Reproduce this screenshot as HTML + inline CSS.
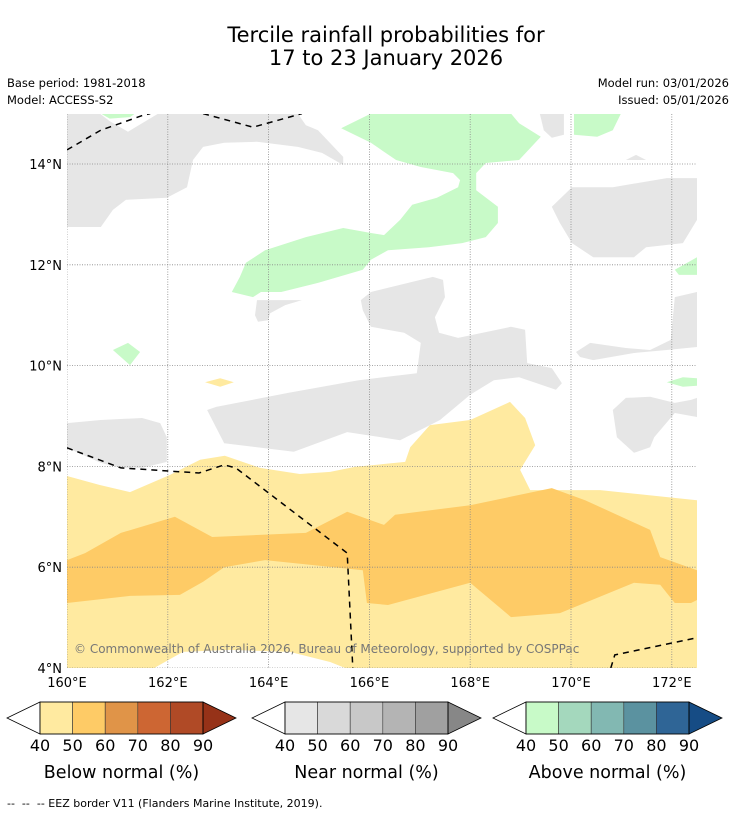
<!DOCTYPE html>
<html><head><meta charset="utf-8"><style>
body{margin:0;background:#fff;width:736px;height:816px;overflow:hidden;font-family:"DejaVu Sans","Liberation Sans",sans-serif}
</style></head><body>
<svg id="chart" width="736" height="816" xmlns="http://www.w3.org/2000/svg" font-family="DejaVu Sans, Liberation Sans, sans-serif">
<rect width="736" height="816" fill="#fff"/>
<text x="386" y="42" font-size="21" text-anchor="middle" fill="#000">Tercile rainfall probabilities for</text>
<text x="386" y="65" font-size="21" text-anchor="middle" fill="#000">17 to 23 January 2026</text>
<text x="7" y="87" font-size="11.5">Base period: 1981-2018</text>
<text x="7" y="104" font-size="11.5">Model: ACCESS-S2</text>
<text x="729" y="87" font-size="11.5" text-anchor="end">Model run: 03/01/2026</text>
<text x="729" y="104" font-size="11.5" text-anchor="end">Issued: 05/01/2026</text>
<g id="map"></g>
<g id="axes"></g>
<g id="cbars"></g>
<text x="7" y="807" font-size="11" style="white-space:pre">--  --  -- EEZ border V11 (Flanders Marine Institute, 2019).</text>
</svg>
<script>
const lonTicks=[160,162,164,166,168,170,172];
const latTicks=[4,6,8,10,12,14];
const cbLevels=[40,50,60,70,80,90];
const belowColors=["#ffeaa0","#fecb66","#e09448","#cd6633","#b04a26","#963218"];
const nearColors=["#e6e6e6","#d9d9d9","#c8c8c8","#b4b4b4","#a0a0a0","#878787"];
const aboveColors=["#c8fac8","#a4d8bd","#82b8b2","#5b92a0","#2f6596","#164c85"];
const yellowRegion=[[160,7.81],[160.65,7.63],[161.25,7.49],[162.04,7.83],[162.64,8.13],[163.13,8.21],[163.83,7.97],[164.62,7.85],[165.22,7.89],[165.71,7.99],[166.71,8.09],[166.81,8.38],[167.2,8.82],[168,8.92],[168.79,9.28],[169.09,8.96],[169.29,8.42],[168.99,7.93],[169.19,7.53],[170.58,7.53],[172.5,7.33],[172.5,4],[165.52,4],[165.22,4.12],[164.42,4.32],[163.23,4.36],[162.3,4.32],[161.73,4],[160,4]];
const orangeRegion=[[160,6.14],[160.36,6.28],[161.07,6.68],[162.14,7],[162.88,6.6],[164.74,6.68],[165.56,7.1],[166.29,6.84],[166.51,7.04],[168,7.23],[169.62,7.57],[170.28,7.33],[171.57,6.74],[171.77,6.2],[172.5,5.94],[172.5,5.35],[172.38,5.29],[172.06,5.29],[171.77,5.65],[171.25,5.69],[169.78,5.09],[168.81,5.01],[168,5.69],[166.37,5.25],[165.95,5.29],[165.87,5.94],[163.93,6.14],[163.12,6],[162.7,5.71],[162.24,5.45],[161.25,5.43],[160,5.29]];
const grayRegions=[
[[160,15],[160.65,15],[160.85,14.85],[161.21,14.64],[161.81,15],[164.58,15],[164.74,14.77],[164.98,14.67],[165.48,14.14],[165.48,13.98],[165.06,14.22],[164.58,14.34],[163.77,14.44],[163.12,14.42],[162.7,14.34],[162.5,14.08],[162.38,13.54],[161.98,13.33],[161.17,13.29],[160.91,13.09],[160.67,12.75],[160,12.75]],
[[169.62,13.15],[170.02,13.54],[170.83,13.54],[171.9,13.72],[172.5,13.72],[172.5,12.89],[172.22,12.43],[171.49,12.35],[171.25,12.15],[170.44,12.15],[170.02,12.43],[169.78,12.83]],
[[169.38,15],[169.86,15],[169.86,14.58],[169.62,14.52],[169.46,14.67]],
[[171.09,14.08],[171.49,14.08],[171.29,14.18]],
[[165.83,11.3],[166.03,11.46],[166.85,11.66],[167.26,11.76],[167.46,11.7],[167.5,11.36],[167.3,10.96],[167.38,10.65],[167.76,10.55],[168.81,10.77],[169.09,10.71],[169.13,10.05],[169.62,9.95],[169.82,9.65],[169.7,9.52],[168.97,9.77],[168.47,9.71],[168,9.42],[167.4,8.92],[166.61,8.52],[165.56,8.68],[164.5,8.29],[163.12,8.46],[162.78,9.12],[162.96,9.18],[164.4,9.46],[165.79,9.71],[166.94,9.85],[167.02,10.45],[166.69,10.65],[166.03,10.77],[165.87,11.1]],
[[163.77,11.3],[164.66,11.3],[164.33,11.2],[164.03,11.04],[163.99,10.9],[163.79,10.87],[163.73,11]],
[[160,8.86],[160.67,8.92],[161.49,8.96],[161.85,8.86],[161.98,8.58],[161.98,8.09],[161.49,7.97],[161.07,7.97],[160.67,8.07],[160,8.37]],
[[170.1,10.27],[170.38,10.45],[171.09,10.35],[171.57,10.31],[171.98,10.51],[172.06,11.36],[172.5,11.46],[172.5,10.37],[171.9,10.31],[171.25,10.25],[170.44,10.11],[170.18,10.17]],
[[170.83,9.12],[171.09,9.36],[171.57,9.38],[172.06,9.26],[172.38,9.32],[172.5,9.36],[172.5,8.98],[172.06,9.06],[171.65,8.58],[171.57,8.38],[171.25,8.27],[170.91,8.58]]
];
const greenRegions=[
[[165.44,14.71],[166.03,15],[168.81,15],[168.97,14.81],[169.4,14.54],[168.97,14.08],[168.31,14.02],[168.12,13.82],[168.12,13.48],[168.55,13.15],[168.55,12.83],[168.31,12.55],[167.84,12.43],[167.18,12.35],[166.37,12.29],[166.03,12.1],[165.87,11.9],[164.98,11.64],[164.25,11.46],[163.85,11.46],[163.69,11.36],[163.27,11.46],[163.43,11.76],[163.55,12.04],[163.93,12.29],[164.74,12.55],[165.48,12.73],[166.03,12.63],[166.29,12.59],[166.61,12.89],[166.85,13.19],[167.34,13.33],[167.76,13.54],[167.8,13.68],[167.66,13.82],[167.02,13.94],[166.53,14.08],[166.03,14.42]],
[[170.06,15],[170.99,15],[170.83,14.67],[170.52,14.54],[170.06,14.58]],
[[160.67,15],[161.35,15],[161.25,14.93],[160.85,14.9]],
[[160.91,10.31],[161.21,10.45],[161.45,10.27],[161.25,10.01]],
[[172.06,11.9],[172.5,12.15],[172.5,11.8],[172.14,11.8]],
[[171.9,9.67],[172.22,9.77],[172.5,9.75],[172.5,9.6],[172.22,9.58]]
];
const yellowBlobs=[[[162.74,9.67],[163.04,9.75],[163.31,9.67],[163.04,9.58]]];
const eezLines=[
[[160,14.28],[160.67,14.67],[161.49,14.96],[161.65,15]],
[[162.7,15],[163.69,14.73],[164.66,15]],
[[160,8.37],[161.07,7.97],[162.62,7.87],[163.12,8.03],[163.35,7.97],[165.56,6.28],[165.67,4]],
[[170.79,4],[170.87,4.26],[172.5,4.6]]
];
const NS="http://www.w3.org/2000/svg";
const X0=67,X1=697,Y0=114,Y1=668;
const xs=lon=>X0+(lon-160)*50.4;
const ys=lat=>668-(lat-4)*50.4;
function mk(tag,attrs,parent){const e=document.createElementNS(NS,tag);for(const k in attrs)e.setAttribute(k,attrs[k]);parent.appendChild(e);return e;}
function pts(poly){return poly.map(p=>xs(p[0]).toFixed(1)+","+ys(p[1]).toFixed(1)).join(" ");}
const map=document.getElementById('map');
const defs=mk('defs',{},map);
const cp=mk('clipPath',{id:'clip'},defs);
mk('rect',{x:X0,y:Y0,width:X1-X0,height:Y1-Y0},cp);
const g=mk('g',{'clip-path':'url(#clip)'},map);
let e=mk('polygon',{points:pts(yellowRegion),fill:belowColors[0]},g);


e=mk('polygon',{points:pts(orangeRegion),fill:belowColors[1]},g);


grayRegions.forEach(p=>{const el=mk('polygon',{points:pts(p),fill:nearColors[0]},g);

});
greenRegions.forEach(p=>{const el=mk('polygon',{points:pts(p),fill:aboveColors[0]},g);

});
yellowBlobs.forEach(p=>{const el=mk('polygon',{points:pts(p),fill:belowColors[0]},g);

});
const ax=document.getElementById('axes');
lonTicks.forEach(l=>{const el=mk('line',{x1:xs(l),x2:xs(l),y1:Y0,y2:Y1,stroke:'#888','stroke-width':0.8,'stroke-dasharray':'1,1.5'},g);


const t=mk('text',{x:xs(l),y:687,'font-size':13,'text-anchor':'middle'},ax);t.textContent=l+'°E';

});
latTicks.forEach(l=>{const el=mk('line',{x1:X0,x2:X1,y1:ys(l),y2:ys(l),stroke:'#888','stroke-width':0.8,'stroke-dasharray':'1,1.5'},g);


const t=mk('text',{x:62,y:ys(l)+5,'font-size':13,'text-anchor':'end'},ax);t.textContent=l+'°N';

});
eezLines.forEach(p=>{const el=mk('polyline',{points:pts(p),fill:'none',stroke:'#000','stroke-width':1.5,'stroke-dasharray':'6,5'},g);

});
const cr=mk('text',{x:74,y:653,'font-size':12,fill:'#777'},map);
cr.textContent='© Commonwealth of Australia 2026, Bureau of Meteorology, supported by COSPPac';


const cb=document.getElementById('cbars');
const bars=[{x:40,colors:belowColors,title:'Below normal (%)',n:'below'},{x:285,colors:nearColors,title:'Near normal (%)',n:'near'},{x:526,colors:aboveColors,title:'Above normal (%)',n:'above'}];
bars.forEach(b=>{
 const w=32.6,top=702,bot=734,mid=718;
 const gg=mk('g',{},cb);
 
 
 mk('polygon',{points:`${b.x},${top} ${b.x-33},${mid} ${b.x},${bot}`,fill:'#fff',stroke:'#000','stroke-width':0.8},gg);
 for(let i=0;i<5;i++){mk('rect',{x:b.x+i*w,y:top,width:w,height:bot-top,fill:b.colors[i],stroke:'#333','stroke-width':0.6},gg);}
 const r=b.x+5*w;
 mk('polygon',{points:`${r},${top} ${r+33},${mid} ${r},${bot}`,fill:b.colors[5],stroke:'#000','stroke-width':0.8},gg);
 mk('rect',{x:b.x,y:top,width:5*w,height:bot-top,fill:'none',stroke:'#000','stroke-width':0.8},gg);
 cbLevels.forEach((v,i)=>{const t=mk('text',{x:b.x+i*w,y:751,'font-size':16,'text-anchor':'middle'},gg);t.textContent=v;
 
 });
 const t=mk('text',{x:b.x+2.5*w,y:778,'font-size':17.5,'text-anchor':'middle'},gg);t.textContent=b.title;
 
 
});
</script>
</body></html>
